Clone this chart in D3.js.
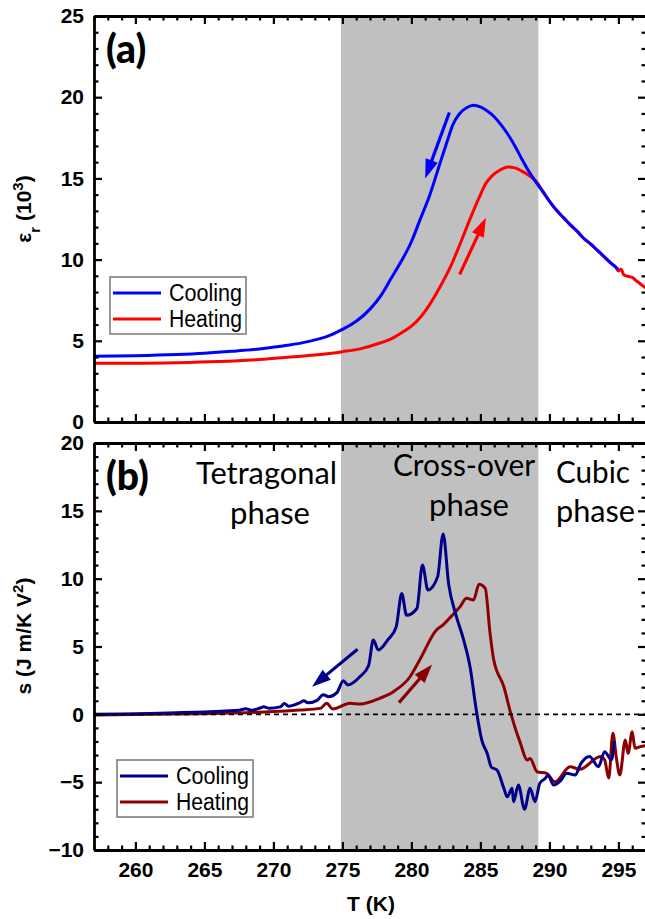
<!DOCTYPE html>
<html>
<head>
<meta charset="utf-8">
<script src="https://cdn.jsdelivr.net/npm/d3@7"></script>
<style>
  body { margin: 0; background: #fff; }
  svg { display: block; }
  .tick text { font-family: "Liberation Sans", Arial, sans-serif; font-weight: bold; font-size: 21px; fill: #000; }
</style>
</head>
<body>
<div id="chart"></div>
<script>
// Données (T en K)
const tempRange = [257, 297];
const crossOver = [274.9, 289.2];

// panneau (a) : permittivité, en 10^3
const epsCooling = [
  [257, 4.05], [260, 4.08], [263, 4.15], [265, 4.23], [267, 4.35], [269, 4.5],
  [271, 4.72], [272.5, 4.95], [274, 5.3], [275, 5.7], [276, 6.2], [277, 6.95],
  [277.8, 7.8], [278.5, 8.8], [279.2, 9.8], [280, 11.1], [280.6, 12.4], [281.3, 13.9],
  [282.1, 16.0], [282.6, 17.3], [283, 18.3], [283.5, 19.0], [284, 19.35], [284.5, 19.5],
  [285, 19.4], [285.5, 19.15], [286, 18.8], [286.5, 18.3], [287, 17.7], [287.5, 17.0],
  [288, 16.2], [288.5, 15.45], [289, 14.8], [289.5, 14.2], [290, 13.6], [290.5, 13.05],
  [291, 12.6], [291.5, 12.15], [292, 11.75], [292.5, 11.3], [293, 10.95], [293.5, 10.55],
  [294, 10.15], [294.5, 9.75], [295, 9.4]
];
const epsHeating = [
  [257, 3.62], [260, 3.62], [263, 3.65], [266, 3.72], [269, 3.85], [271, 3.98],
  [273, 4.12], [275, 4.33], [276.5, 4.55], [277.5, 4.8], [278.5, 5.1], [279.3, 5.5],
  [280, 5.9], [280.7, 6.5], [281.3, 7.2], [282, 8.2], [282.8, 9.5], [283.5, 10.9],
  [284.2, 12.4], [284.9, 13.8], [285.4, 14.7], [285.9, 15.2], [286.4, 15.5], [287, 15.7],
  [287.5, 15.65], [288, 15.45], [288.5, 15.2], [289, 14.85], [289.5, 14.25], [290, 13.6],
  [290.5, 13.05], [291, 12.6], [291.5, 12.15], [292, 11.75], [292.5, 11.3], [293, 10.95],
  [293.5, 10.55], [294, 10.15], [294.5, 9.75], [294.8, 9.55], [295, 9.3], [295.2, 9.4],
  [295.4, 9.05], [295.8, 8.95], [296, 8.9], [296.3, 8.7], [296.6, 8.5], [297, 8.25]
];

// panneau (b) : s (J m/K V^2)
const sCooling = [
  [257, 0], [259, 0.03], [261, 0.07], [263, 0.12], [265, 0.18], [266.5, 0.25],
  [267.5, 0.3], [268, 0.42], [268.4, 0.3], [269, 0.45], [269.3, 0.55], [269.7, 0.45],
  [270.5, 0.55], [270.8, 0.8], [271.1, 0.6], [271.9, 0.85], [272.2, 1.0], [272.5, 0.85],
  [273.2, 1.05], [273.6, 1.45], [274, 1.3], [274.6, 1.6], [275.07, 2.48], [275.4, 2.16],
  [276.3, 2.8], [276.9, 3.6], [277.24, 5.47], [277.6, 4.74], [278.3, 5.5], [278.9, 6.46],
  [279.3, 8.9], [279.65, 7.3], [280.4, 7.8], [280.8, 11.0], [281.2, 9.16], [281.9, 10.14],
  [282.3, 13.3], [282.7, 9.6], [283.2, 7.42], [283.76, 5.58], [284.25, 3.5], [284.7, 0.33],
  [285.1, -1.9], [285.5, -2.9], [285.8, -3.9], [286.2, -4.1], [286.7, -5.45], [286.95, -6.08],
  [287.3, -5.45], [287.4, -6.44], [287.75, -5.21], [288.2, -7.0], [288.6, -5.45], [288.96, -6.44],
  [289.3, -5.09], [289.7, -4.72], [289.9, -4.47], [290.3, -5.21], [290.8, -4.9], [291.25, -4.35],
  [291.86, -4.47], [292.3, -3.6], [292.9, -3.1], [293.55, -3.86], [294, -2.75], [294.5, -3.36],
  [294.7, -2.0]
];
const sHeating = [
  [257, -0.05], [260, -0.02], [263, 0.02], [266, 0.07], [268, 0.12], [270, 0.2],
  [271.9, 0.32], [273.4, 0.44], [273.86, 0.81], [274.3, 0.39], [275.55, 0.81], [276.3, 0.76],
  [277.7, 1.18], [278.7, 1.67], [279.9, 2.77], [280.6, 4.0], [281.8, 6.2], [282.3, 6.6],
  [282.9, 7.24], [283.5, 7.9], [284, 8.55], [284.5, 8.42], [284.9, 9.58], [285.35, 9.28],
  [285.7, 5.96], [285.95, 4.1], [286.7, 2.03], [287.2, 0.07], [287.9, -2.14], [288.4, -3.37],
  [288.6, -3.25], [289.1, -4.23], [289.8, -4.35], [290.4, -4.97], [291.5, -3.86], [292.2, -4.05],
  [293.7, -3.1], [294, -3.35], [294.3, -4.7], [294.6, -1.4], [294.85, -3.2], [295.1, -4.47],
  [295.5, -1.9], [295.7, -2.87], [296, -1.28], [296.2, -2.5], [296.6, -2.38], [297, -2.3]
];

// flèches : [départ, pointe] en (T, valeur)
const arrowsA = [
  { from: [282.75, 19.06], to: [281.0, 15.0], color: "#0000ff" },
  { from: [283.5, 9.09], to: [285.4, 12.57], color: "#ff0000" }
];
const arrowsB = [
  { from: [276.1, 4.79], to: [272.8, 2.03], color: "#00008b" },
  { from: [279.1, 0.86], to: [281.5, 3.68], color: "#8b0000" }
];

const xMajor = [260, 265, 270, 275, 280, 285, 290, 295];
const yMajorA = [0, 5, 10, 15, 20, 25];
const yMajorB = [-10, -5, 0, 5, 10, 15, 20];

const W = 645, H = 919;

const svg = d3.select("#chart").append("svg")
  .attr("width", W).attr("height", H);

const x = d3.scaleLinear().domain(tempRange).range([94, 646]);
const yA = d3.scaleLinear().domain([0, 25]).range([422, 16]);
const yB = d3.scaleLinear().domain([-10, 20]).range([850, 443]);

function minorOf(lo, hi, majors) {
  return d3.range(lo, hi + 0.001, 1).filter(v => majors.indexOf(v) < 0);
}

function drawShade(y) {
  const [y0, y1] = y.range();
  svg.append("rect")
    .attr("x", x(crossOver[0])).attr("width", x(crossOver[1]) - x(crossOver[0]))
    .attr("y", y1).attr("height", y0 - y1)
    .attr("fill", "#c0c0c0");
}

function drawAxes(y, yMajor, showXLabels) {
  const g = svg.append("g");
  const [y0, y1] = y.range();
  const yd = y.domain();
  const xMinor = minorOf(tempRange[0], tempRange[1], xMajor);
  const yMinor = minorOf(yd[0], yd[1], yMajor);

  const axes = [
    [d3.axisBottom(x).tickValues(xMajor), `translate(0,${y0})`, showXLabels],
    [d3.axisTop(x).tickValues(xMajor), `translate(0,${y1})`, false],
    [d3.axisLeft(y).tickValues(yMajor), `translate(${x.range()[0]},0)`, true],
    [d3.axisRight(y).tickValues(yMajor), `translate(${x.range()[1]},0)`, false]
  ];
  axes.forEach(([ax, tr, labels], i) => {
    ax.tickSizeInner(-8).tickSizeOuter(0).tickPadding(i < 2 ? 12 : 10);
    if (!labels) ax.tickFormat("");
    const a = g.append("g").attr("transform", tr).call(ax);
    a.select(".domain").attr("stroke", "#000").attr("stroke-width", 2.8);
    a.selectAll(".tick line").attr("stroke", "#000").attr("stroke-width", 2.2);
  });

  const minors = [
    [d3.axisBottom(x).tickValues(xMinor), `translate(0,${y0})`],
    [d3.axisTop(x).tickValues(xMinor), `translate(0,${y1})`],
    [d3.axisLeft(y).tickValues(yMinor), `translate(${x.range()[0]},0)`],
    [d3.axisRight(y).tickValues(yMinor), `translate(${x.range()[1]},0)`]
  ];
  minors.forEach(([ax, tr]) => {
    ax.tickSizeInner(-4.5).tickSizeOuter(0).tickFormat("");
    const a = g.append("g").attr("transform", tr).call(ax);
    a.select(".domain").remove();
    a.selectAll(".tick line").attr("stroke", "#000").attr("stroke-width", 2.2);
  });
}

function drawCurve(data, y, color, curve, width) {
  svg.append("path")
    .datum(data)
    .attr("d", d3.line().x(d => x(d[0])).y(d => y(d[1])).curve(curve))
    .attr("fill", "none")
    .attr("stroke", color)
    .attr("stroke-width", width)
    .attr("stroke-linejoin", "round");
}

function drawArrow(a, y) {
  const sx = x(a.from[0]), sy = y(a.from[1]);
  const tx = x(a.to[0]), ty = y(a.to[1]);
  const ang = Math.atan2(ty - sy, tx - sx);
  const hl = 19, hw = 6.5;
  const bx = tx - hl * Math.cos(ang), by = ty - hl * Math.sin(ang);
  svg.append("line")
    .attr("x1", sx).attr("y1", sy).attr("x2", bx + 3 * Math.cos(ang)).attr("y2", by + 3 * Math.sin(ang))
    .attr("stroke", a.color).attr("stroke-width", 3.2);
  const px = -Math.sin(ang) * hw, py = Math.cos(ang) * hw;
  svg.append("path")
    .attr("d", `M${tx},${ty}L${bx + px},${by + py}L${bx - px},${by - py}Z`)
    .attr("fill", a.color);
}

function drawLegend(bx, by, entries) {
  const g = svg.append("g").attr("transform", `translate(${bx},${by})`);
  g.append("rect")
    .attr("width", 136).attr("height", 57)
    .attr("fill", "#fff").attr("stroke", "#777").attr("stroke-width", 1.5);
  entries.forEach((e, i) => {
    const ly = 16 + i * 26;
    g.append("line")
      .attr("x1", 3).attr("x2", 51).attr("y1", ly).attr("y2", ly)
      .attr("stroke", e.color).attr("stroke-width", 3);
    g.append("text")
      .attr("x", 59).attr("y", ly).attr("dy", "0.36em")
      .attr("textLength", 73).attr("lengthAdjust", "spacingAndGlyphs")
      .style("font-family", "'Liberation Sans', Arial, sans-serif")
      .style("font-size", "23px")
      .text(e.label);
  });
}

// ---- panneau (a)
drawShade(yA);
drawCurve(epsHeating, yA, "#ff0000", d3.curveMonotoneX, 3);
drawCurve(epsCooling, yA, "#0000ff", d3.curveMonotoneX, 3);
arrowsA.forEach(a => drawArrow(a, yA));

// ---- panneau (b)
drawShade(yB);
drawCurve(sHeating, yB, "#8b0000", d3.curveMonotoneX, 3);
drawCurve(sCooling, yB, "#00008b", d3.curveMonotoneX, 3);
svg.append("line")
  .attr("x1", x.range()[0]).attr("x2", x.range()[1])
  .attr("y1", yB(0)).attr("y2", yB(0))
  .attr("stroke", "#000").attr("stroke-width", 1.6)
  .attr("stroke-dasharray", "5,4");
arrowsB.forEach(a => drawArrow(a, yB));

drawAxes(yA, yMajorA, false);
drawAxes(yB, yMajorB, true);

drawLegend(110, 277, [
  { label: "Cooling", color: "#0000ff" },
  { label: "Heating", color: "#ff0000" }
]);
drawLegend(117, 760, [
  { label: "Cooling", color: "#00008b" },
  { label: "Heating", color: "#8b0000" }
]);

// étiquettes des panneaux
const bold = "'Liberation Sans', Arial, sans-serif";
svg.append("text").attr("x", 106).attr("y", 63)
  .style("font-family", "Lato, sans-serif").style("font-weight", "900").style("font-size", "39px")
  .text("(a)");
svg.append("text").attr("x", 106).attr("y", 490)
  .style("font-family", "Lato, sans-serif").style("font-weight", "900").style("font-size", "39px")
  .text("(b)");

// phases
const phases = [
  { text: "Tetragonal", x: 196, y: 484, w: 141 },
  { text: "phase", x: 230, y: 524, w: 80 },
  { text: "Cross-over", x: 393, y: 476, w: 142 },
  { text: "phase", x: 429, y: 516, w: 80 },
  { text: "Cubic", x: 556, y: 483, w: 74 },
  { text: "phase", x: 556, y: 522, w: 79 }
];
svg.selectAll(".phase").data(phases).enter().append("text")
  .attr("class", "phase")
  .attr("x", d => d.x).attr("y", d => d.y)
  .attr("textLength", d => d.w).attr("lengthAdjust", "spacingAndGlyphs")
  .style("font-family", "Lato, sans-serif")
  .style("font-size", "30px")
  .text(d => d.text);

// titres des axes
const tA = svg.append("text")
  .attr("transform", "translate(31,209) rotate(-90)")
  .attr("text-anchor", "middle")
  .style("font-family", bold).style("font-weight", "bold").style("font-size", "21px");
tA.append("tspan").text("ε");
tA.append("tspan").attr("baseline-shift", "sub").style("font-size", "15px").text("r");
tA.append("tspan").text(" (10");
tA.append("tspan").attr("baseline-shift", "super").style("font-size", "15px").text("3");
tA.append("tspan").text(")");

const tB = svg.append("text")
  .attr("transform", "translate(31,636) rotate(-90)")
  .attr("text-anchor", "middle")
  .style("font-family", bold).style("font-weight", "bold").style("font-size", "21px");
tB.append("tspan").text("s (J m/K V");
tB.append("tspan").attr("baseline-shift", "super").style("font-size", "15px").text("2");
tB.append("tspan").text(")");

svg.append("text")
  .attr("x", 371).attr("y", 911)
  .attr("text-anchor", "middle")
  .style("font-family", bold).style("font-weight", "bold").style("font-size", "21px")
  .text("T (K)");
</script>
</body>
</html>
